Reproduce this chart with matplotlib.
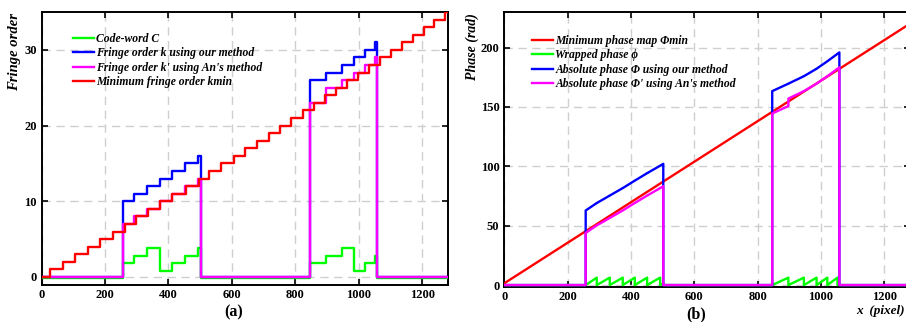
import numpy as np
import matplotlib
matplotlib.use("Agg")
import matplotlib.pyplot as plt
from matplotlib import transforms

# ---------------- data ----------------
x_max = 1280
region1_edges = [257, 292, 333, 374, 412, 451, 492, 502]
region2_edges = [846, 897, 946, 986, 1020, 1052, 1058]
codeword_r1 = [2, 3, 4, 1, 2, 3, 4]
codeword_r2 = [2, 3, 4, 1, 2, 3]
k_ours_r1 = [10, 11, 12, 13, 14, 15, 16]
k_ours_r2 = [26, 27, 28, 29, 30, 31]
k_an_r1 = [7, 8, 9, 10, 11, 12, 13]
k_an_r2 = [23, 25, 26, 27, 28, 29]
wrapped_end_r1 = [6.28, 6.28, 6.28, 6.28, 6.28, 6.28, 1.6]
wrapped_end_r2 = [6.28, 6.28, 6.28, 6.28, 6.28, 1.2]
kmin_edges = [28, 67, 107, 146, 186, 226, 264, 297, 336, 375, 412, 455,
              495, 529, 567, 606, 640, 679, 716, 753, 787, 824, 858, 894,
              929, 963, 999, 1033, 1066, 1102, 1136, 1171, 1206, 1239, 1272]
phimin_x = [0, 1280]
phimin_y = [1.5, 220.0]

legend_a = ["Code-word C", "Fringe order k using our method",
            "Fringe order k' using An's method", "Minimum fringe order kmin"]
legend_b = ["Minimum phase map \u03a6min", "Wrapped phase \u03d5",
            "Absolute phase \u03a6 using our method",
            "Absolute phase \u03a6' using An's method"]
xticks = [0, 200, 400, 600, 800, 1000, 1200]
yticks_a = [0, 10, 20, 30]
yticks_b = [0, 50, 100, 150, 200]

TWO_PI = 2 * np.pi


def step_series(regions):
    xs, ys = [0], [0]
    for edges, vals in regions:
        xs.append(edges[0]); ys.append(0)
        for i, v in enumerate(vals):
            xs += [edges[i], edges[i + 1]]
            ys += [v, v]
        xs.append(edges[-1]); ys.append(0)
    xs.append(x_max); ys.append(0)
    return xs, ys


def ramp_series(regions):
    # regions: (edges, k list, wrapped end values)
    xs, ys = [0], [0]
    for edges, ks, ends in regions:
        xs.append(edges[0]); ys.append(0)
        for i, (k, e) in enumerate(zip(ks, ends)):
            xs += [edges[i], edges[i + 1]]
            ys += [TWO_PI * k, TWO_PI * k + e]
        xs.append(edges[-1]); ys.append(0)
    xs.append(x_max); ys.append(0)
    return xs, ys


W, H = 906, 322
fig = plt.figure(figsize=(W / 100, H / 100), dpi=100)

serif = ["Liberation Serif", "DejaVu Serif"]
tick_fs = 9
leg_fs = 8.4
lw = 1.7

def px_rect(left, top, right, bottom):
    return [left / W, 1 - bottom / H, (right - left) / W, (bottom - top) / H]


def style_axes(ax):
    for s in ax.spines.values():
        s.set_linewidth(1.4)
        s.set_color("black")
    ax.tick_params(direction="in", length=4, width=1.2, top=True, right=True,
                   labelsize=tick_fs, pad=3.5)
    for lab in ax.get_xticklabels() + ax.get_yticklabels():
        lab.set_fontfamily(serif)
        lab.set_fontweight("bold")
    ax.grid(True, color="#cfcfcf", linestyle=(0, (6, 4)), linewidth=1.0)
    ax.set_axisbelow(True)


# ---------------- panel (a) ----------------
ax1 = fig.add_axes(px_rect(41.5, 12, 447.5, 284.5))
ax1.set_xlim(0, x_max)
ax1.set_ylim(-1, 35)
ax1.set_xticks(xticks)
ax1.set_yticks(yticks_a)

cx, cy = step_series([(region1_edges, codeword_r1), (region2_edges, codeword_r2)])
bx, by = step_series([(region1_edges, k_ours_r1), (region2_edges, k_ours_r2)])
px, py = step_series([(region1_edges, k_an_r1), (region2_edges, k_an_r2)])
kx = [0] + kmin_edges + [x_max]
ky = list(range(0, len(kmin_edges) + 1)) + [len(kmin_edges)]

green_tr = transforms.offset_copy(ax1.transData, fig=fig, x=0, y=-1.1, units="points")
h1, = ax1.plot(cx, cy, color="#00ff00", lw=lw, zorder=3, transform=green_tr)
h2, = ax1.plot(bx, by, color="#0000ff", lw=lw, zorder=4)
h3, = ax1.plot(px, py, color="#ff00ff", lw=lw, zorder=5)
h4, = ax1.step(kx, ky, where="post", color="#ff0000", lw=lw, zorder=6)
style_axes(ax1)

leg1 = ax1.legend([h1, h2, h3, h4], legend_a, loc="upper left",
                  bbox_to_anchor=(73 / W, 1 - 33 / H), bbox_transform=fig.transFigure,
                  frameon=False, borderpad=0, borderaxespad=0, handlelength=1.8,
                  handletextpad=0.2, labelspacing=0.2,
                  prop={"family": serif, "weight": "bold", "style": "italic", "size": leg_fs})

fig.text(15 / W, 1 - 13 / H, "Fringe order", rotation=90, ha="center", va="top",
         family=serif, weight="bold", style="italic", fontsize=10.5)
fig.text(234 / W, 1 - 312 / H, "(a)", ha="center", va="center",
         family=serif, weight="bold", fontsize=11.5)

# ---------------- panel (b) ----------------
ax2 = fig.add_axes(px_rect(504.3, 12, 504.3 + x_max * 0.3167, 286.5))
ax2.set_xlim(0, x_max)
ax2.set_ylim(-1.2, 230)
ax2.set_xticks(xticks)
ax2.set_yticks(yticks_b)

zeros_r1 = [0] * len(wrapped_end_r1)
zeros_r2 = [0] * len(wrapped_end_r2)
gx, gy = ramp_series([(region1_edges, zeros_r1, wrapped_end_r1),
                      (region2_edges, zeros_r2, wrapped_end_r2)])
Bx, By = ramp_series([(region1_edges, k_ours_r1, wrapped_end_r1),
                      (region2_edges, k_ours_r2, wrapped_end_r2)])
Px, Py = ramp_series([(region1_edges, k_an_r1, wrapped_end_r1),
                      (region2_edges, k_an_r2, wrapped_end_r2)])

g1, = ax2.plot(phimin_x, phimin_y, color="#ff0000", lw=lw, zorder=3)
g2, = ax2.plot(gx, gy, color="#00ff00", lw=lw, zorder=4)
g3, = ax2.plot(Bx, By, color="#0000ff", lw=lw, zorder=5)
g4, = ax2.plot(Px, Py, color="#ff00ff", lw=lw, zorder=6)
style_axes(ax2)

leg2 = ax2.legend([g1, g2, g3, g4], legend_b, loc="upper left",
                  bbox_to_anchor=(532 / W, 1 - 35 / H), bbox_transform=fig.transFigure,
                  frameon=False, borderpad=0, borderaxespad=0, handlelength=1.8,
                  handletextpad=0.2, labelspacing=0.2,
                  prop={"family": serif, "weight": "bold", "style": "italic", "size": leg_fs})

fig.text(472.5 / W, 1 - 13 / H, "Phase (rad)", rotation=90, ha="center", va="top",
         family=serif, weight="bold", style="italic", fontsize=10)
fig.text(696 / W, 1 - 314 / H, "(b)", ha="center", va="center",
         family=serif, weight="bold", fontsize=11.5)
fig.text(905 / W, 1 - 311 / H, "x  (pixel)", ha="right", va="center",
         family=serif, weight="bold", style="italic", fontsize=9.5)

fig.savefig("out.png", dpi=100)
